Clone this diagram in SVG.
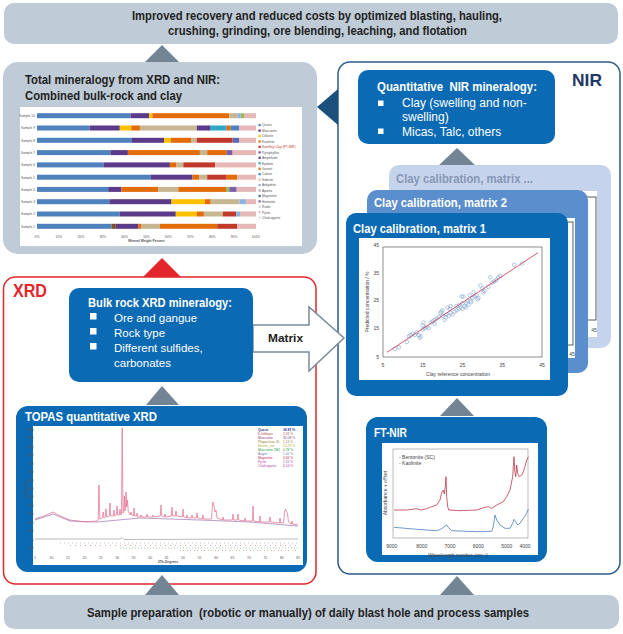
<svg xmlns="http://www.w3.org/2000/svg" width="623" height="634" viewBox="0 0 623 634">
<style>
.t{font-family:"Liberation Sans",Arial,sans-serif}
.b{font-weight:bold}
.w{fill:#fff}
.tri{fill:#738595}
.blue{fill:#0b6ab4}
.band{fill:#bfcbd7}
.pt{fill:none;stroke:#7fa6cf;stroke-width:0.6}
.sm{font-family:"Liberation Sans",Arial,sans-serif;font-size:3.3px;fill:#555}
.ax{font-family:"Liberation Sans",Arial,sans-serif;font-size:5px;fill:#444}
.pre{white-space:pre}
</style>
<rect width="623" height="634" fill="#fff"/>

<!-- Top banner -->
<g id="goal">
<rect x="4" y="3" width="614" height="41" rx="10" class="band"/>
<text class="t b" x="132" y="19.5" font-size="12.5" fill="#222" textLength="370" lengthAdjust="spacingAndGlyphs">Improved recovery and reduced costs by optimized blasting, hauling,</text>
<text class="t b" x="168" y="35" font-size="12.5" fill="#222" textLength="299" lengthAdjust="spacingAndGlyphs">crushing, grinding, ore blending, leaching, and flotation</text>
</g>

<!-- Total mineralogy box -->
<g id="total">
<rect x="3" y="62" width="314" height="192" rx="15" class="band"/>
<text class="t b" x="25" y="84" font-size="13.5" fill="#222" textLength="195" lengthAdjust="spacingAndGlyphs">Total mineralogy from XRD and NIR:</text>
<text class="t b" x="25" y="99.5" font-size="13.5" fill="#222" textLength="157" lengthAdjust="spacingAndGlyphs">Combined bulk-rock and clay</text>
<rect x="20" y="107" width="282" height="139" fill="#fff"/>
<g id="bars">
<g transform="translate(0,113.2)"><rect x="37" width="93.5" height="5" fill="#4f81bd"/><rect x="130.5" width="18.6" height="5" fill="#5b3a8a"/><rect x="149.1" width="3.3" height="5" fill="#ffc000"/><rect x="152.4" width="76.9" height="5" fill="#e36c09"/><rect x="229.3" width="8.1" height="5" fill="#c8b592"/><rect x="237.4" width="3.3" height="5" fill="#8db3e2"/><rect x="240.7" width="3.3" height="5" fill="#9bbb59"/><rect x="244" width="12" height="5" fill="#e6b9b8"/></g>
<g transform="translate(0,125.5)"><rect x="37" width="52.6" height="5" fill="#4f81bd"/><rect x="89.6" width="30.2" height="5" fill="#5b3a8a"/><rect x="119.8" width="11.4" height="5" fill="#ffc000"/><rect x="131.2" width="8.7" height="5" fill="#e36c09"/><rect x="139.9" width="57" height="5" fill="#c8b592"/><rect x="196.9" width="13.1" height="5" fill="#5b3a8a"/><rect x="210" width="16.7" height="5" fill="#31a6c8"/><rect x="226.7" width="3.9" height="5" fill="#e36c09"/><rect x="230.6" width="8.8" height="5" fill="#4f81bd"/><rect x="239.4" width="16.6" height="5" fill="#e6b9b8"/></g>
<g transform="translate(0,137.8)"><rect x="37" width="95" height="5" fill="#4f81bd"/><rect x="132" width="32" height="5" fill="#5b3a8a"/><rect x="164" width="6.6" height="5" fill="#ffc000"/><rect x="170.6" width="20.4" height="5" fill="#e36c09"/><rect x="191" width="5.7" height="5" fill="#c8b592"/><rect x="196.7" width="35.9" height="5" fill="#c0392b"/><rect x="232.6" width="6.8" height="5" fill="#5b6ab0"/><rect x="239.4" width="16.6" height="5" fill="#e6b9b8"/></g>
<g transform="translate(0,150.1)"><rect x="37" width="73.4" height="5" fill="#4f81bd"/><rect x="110.4" width="17.5" height="5" fill="#5b3a8a"/><rect x="127.9" width="72" height="5" fill="#e36c09"/><rect x="199.9" width="7.3" height="5" fill="#c8b592"/><rect x="207.2" width="19.5" height="5" fill="#e36c09"/><rect x="226.7" width="5.9" height="5" fill="#7a5fa8"/><rect x="232.6" width="23.4" height="5" fill="#e6b9b8"/></g>
<g transform="translate(0,162.4)"><rect x="37" width="66.8" height="5" fill="#4f81bd"/><rect x="103.8" width="66.1" height="5" fill="#5b3a8a"/><rect x="169.9" width="6.6" height="5" fill="#e36c09"/><rect x="176.5" width="6.8" height="5" fill="#c8b592"/><rect x="183.3" width="31.7" height="5" fill="#c0392b"/><rect x="215" width="41" height="5" fill="#e6b9b8"/></g>
<g transform="translate(0,174.7)"><rect x="37" width="113.9" height="5" fill="#4f81bd"/><rect x="150.9" width="41.6" height="5" fill="#5b3a8a"/><rect x="192.5" width="6.6" height="5" fill="#e36c09"/><rect x="199.1" width="8.1" height="5" fill="#c8b592"/><rect x="207.2" width="19.5" height="5" fill="#c0392b"/><rect x="226.7" width="10.7" height="5" fill="#e36c09"/><rect x="237.4" width="18.6" height="5" fill="#e6b9b8"/></g>
<g transform="translate(0,186.9)"><rect x="37" width="71.2" height="5" fill="#4f81bd"/><rect x="108.2" width="13.3" height="5" fill="#5b3a8a"/><rect x="121.5" width="36.6" height="5" fill="#e36c09"/><rect x="158.1" width="20.2" height="5" fill="#c8b592"/><rect x="178.3" width="47.7" height="5" fill="#e36c09"/><rect x="226" width="3.3" height="5" fill="#9bbb59"/><rect x="229.3" width="7.4" height="5" fill="#7a5fa8"/><rect x="236.7" width="19.3" height="5" fill="#e6b9b8"/></g>
<g transform="translate(0,199.2)"><rect x="37" width="72.3" height="5" fill="#4f81bd"/><rect x="109.3" width="62.2" height="5" fill="#5b3a8a"/><rect x="171.5" width="33.5" height="5" fill="#ffc000"/><rect x="205" width="5.7" height="5" fill="#e36c09"/><rect x="210.7" width="28.7" height="5" fill="#c8b592"/><rect x="239.4" width="6.5" height="5" fill="#8db3e2"/><rect x="245.9" width="10.1" height="5" fill="#e6b9b8"/></g>
<g transform="translate(0,211.5)"><rect x="37" width="82.8" height="5" fill="#4f81bd"/><rect x="119.8" width="56" height="5" fill="#5b3a8a"/><rect x="175.8" width="20.9" height="5" fill="#ffc000"/><rect x="196.7" width="7.2" height="5" fill="#e36c09"/><rect x="203.9" width="18.8" height="5" fill="#c8b592"/><rect x="222.7" width="13.4" height="5" fill="#c0392b"/><rect x="236.1" width="3.9" height="5" fill="#8db3e2"/><rect x="240" width="16" height="5" fill="#e6b9b8"/></g>
<g transform="translate(0,223.8)"><rect x="37" width="74.5" height="5" fill="#4f81bd"/><rect x="111.5" width="4.3" height="5" fill="#7f4f1f"/><rect x="115.8" width="22.4" height="5" fill="#5b3a8a"/><rect x="138.2" width="3.3" height="5" fill="#e36c09"/><rect x="141.5" width="18.4" height="5" fill="#c8b592"/><rect x="159.9" width="57.3" height="5" fill="#e36c09"/><rect x="217.2" width="20.2" height="5" fill="#c0392b"/><rect x="237.4" width="18.6" height="5" fill="#e6b9b8"/></g>
</g>
<g class="sm" text-anchor="end">
<text x="35" y="117">Sample 10</text><text x="35" y="129.3">Sample 9</text><text x="35" y="141.6">Sample 8</text><text x="35" y="153.9">Sample 7</text><text x="35" y="166.2">Sample 6</text><text x="35" y="178.5">Sample 5</text><text x="35" y="190.7">Sample 4</text><text x="35" y="203">Sample 3</text><text x="35" y="215.3">Sample 2</text><text x="35" y="227.6">Sample 1</text>
</g>
<g class="sm" text-anchor="middle">
<text x="37" y="238">0%</text><text x="58.9" y="238">10%</text><text x="80.8" y="238">20%</text><text x="102.7" y="238">30%</text><text x="124.6" y="238">40%</text><text x="146.5" y="238">50%</text><text x="168.4" y="238">60%</text><text x="190.3" y="238">70%</text><text x="212.2" y="238">80%</text><text x="234.1" y="238">90%</text><text x="256" y="238">100%</text>
<text x="146.5" y="242" font-weight="bold">Mineral Weight Percent</text>
</g>
<g id="legend1" class="sm">
<rect x="258.5" y="124" width="2.2" height="2.2" fill="#4f81bd"/><text x="262" y="126.3">Quartz</text>
<rect x="258.5" y="129.5" width="2.2" height="2.2" fill="#4b2c6f"/><text x="262" y="131.8">Muscovite</text>
<rect x="258.5" y="134.9" width="2.2" height="2.2" fill="#ffc000"/><text x="262" y="137.2">Chlorite</text>
<rect x="258.5" y="140.4" width="2.2" height="2.2" fill="#e36c09"/><text x="262" y="142.7">Kaolinite</text>
<rect x="258.5" y="145.8" width="2.2" height="2.2" fill="#c0392b"/><text x="262" y="148.1" fill="#c0392b">Swelling Clay (FT-NIR)</text>
<rect x="258.5" y="151.3" width="2.2" height="2.2" fill="#7a4fa0"/><text x="262" y="153.6">Pyrophyllite</text>
<rect x="258.5" y="156.7" width="2.2" height="2.2" fill="#5a4a8a"/><text x="262" y="159">Amphibole</text>
<rect x="258.5" y="162.2" width="2.2" height="2.2" fill="#31a6c8"/><text x="262" y="164.5">Epidote</text>
<rect x="258.5" y="167.6" width="2.2" height="2.2" fill="#e36c09"/><text x="262" y="169.9">Garnet</text>
<rect x="258.5" y="173.1" width="2.2" height="2.2" fill="#4f81bd"/><text x="262" y="175.4">Calcite</text>
<rect x="258.5" y="178.5" width="2.2" height="2.2" fill="#e6b9b8"/><text x="262" y="180.8">Siderite</text>
<rect x="258.5" y="184" width="2.2" height="2.2" fill="#8db3e2"/><text x="262" y="186.3">Anhydrite</text>
<rect x="258.5" y="189.4" width="2.2" height="2.2" fill="#b7a7d0"/><text x="262" y="191.7">Apatite</text>
<rect x="258.5" y="194.9" width="2.2" height="2.2" fill="#3a6ea5"/><text x="262" y="197.2">Magnetite</text>
<rect x="258.5" y="200.3" width="2.2" height="2.2" fill="#7f5fa0"/><text x="262" y="202.6">Hematite</text>
<rect x="258.5" y="205.8" width="2.2" height="2.2" fill="#c8d8e8"/><text x="262" y="208.1">Rutile</text>
<rect x="258.5" y="211.2" width="2.2" height="2.2" fill="#d9c8e0"/><text x="262" y="213.5">Pyrite</text>
<rect x="258.5" y="216.7" width="2.2" height="2.2" fill="#e0e0e0"/><text x="262" y="219">Chalcopyrite</text>
</g>
</g>

<!-- XRD frame -->
<g id="xrd">
<rect x="3.5" y="277" width="312.5" height="307" rx="12" fill="none" stroke="#e3262b" stroke-width="1.5"/>
<text class="t b" x="13" y="297" font-size="18" fill="#e3262b" textLength="34" lengthAdjust="spacingAndGlyphs">XRD</text>
</g>

<!-- NIR frame -->
<g id="nir">
<rect x="338" y="62" width="282" height="512" rx="12" fill="none" stroke="#2a5b87" stroke-width="1.5"/>
<text class="t b" x="572" y="86" font-size="17" fill="#1f3864" textLength="30" lengthAdjust="spacingAndGlyphs">NIR</text>
</g>

<!-- Connectors -->
<g id="connectors">
<polygon class="tri" points="162,45 145,62 179,62"/>
<polygon points="162,258 143,277 181,277" fill="#e3262b"/>
<polygon class="tri" points="162,386 146,405 179,405"/>
<polygon class="tri" points="162,575 145,595 179,595"/>
<polygon class="tri" points="457,148 438,166 476,166"/>
<polygon class="tri" points="457,398 440,416 474,416"/>
<polygon class="tri" points="457,576 440,595 474,595"/>
<polygon points="317,107 338,89 338,125" fill="#1d4f7c"/>
<polygon points="253,325 309,325 309,307 344,338 309,371 309,352 253,352" fill="#fff" stroke="#7b8a98" stroke-width="1.5" stroke-linejoin="miter"/>
<text class="t b" x="268" y="341.7" font-size="11.5" fill="#222" textLength="35" lengthAdjust="spacingAndGlyphs">Matrix</text>
</g>

<!-- Bulk rock box -->
<g id="bulk">
<rect x="69" y="288" width="184" height="94" rx="10" class="blue"/>
<text class="t b w" x="88" y="307" font-size="12.5" textLength="144" lengthAdjust="spacingAndGlyphs">Bulk rock XRD mineralogy:</text>
<rect x="90" y="313" width="6.5" height="6.5" class="w"/>
<rect x="90" y="328" width="6.5" height="6.5" class="w"/>
<rect x="90" y="343" width="6.5" height="6.5" class="w"/>
<text class="t w" x="114" y="321.7" font-size="11.5">Ore and gangue</text>
<text class="t w" x="114" y="336.7" font-size="11.5">Rock type</text>
<text class="t w" x="114" y="351.7" font-size="11.5">Different sulfides,</text>
<text class="t w" x="114" y="366.7" font-size="11.5">carbonates</text>
</g>

<!-- TOPAS box -->
<g id="topas">
<rect x="16" y="406" width="291" height="166" rx="12" class="blue"/>
<text class="t b w" x="25" y="421" font-size="13" textLength="132" lengthAdjust="spacingAndGlyphs">TOPAS quantitative XRD</text>
<rect x="33" y="426" width="270" height="139" fill="#fff"/>
<g class="sm" font-size="3" text-anchor="end">
<text x="33.5" y="431">1300</text><text x="33.5" y="439.4">1200</text><text x="33.5" y="447.9">1100</text><text x="33.5" y="456.3">1000</text><text x="33.5" y="464.7">900</text><text x="33.5" y="473.2">800</text><text x="33.5" y="481.6">700</text><text x="33.5" y="490">600</text><text x="33.5" y="498.4">500</text><text x="33.5" y="506.9">400</text><text x="33.5" y="515.3">300</text><text x="33.5" y="523.7">200</text><text x="33.5" y="532.2">100</text><text x="33.5" y="540.6">0</text><text x="33.5" y="549">-100</text>
</g>
<text class="sm" font-size="3" transform="translate(27,490) rotate(-90)" text-anchor="middle">Sqrt(Counts)</text>
<path d="M35,520 L53,514 L70,521 L97,522 L140,518 L200,520 L250,522 L298,526" fill="none" stroke="#8a5aa8" stroke-width="0.6"/>
<path d="M35,519 L44,516 L53,512 L60,516 L70,520 L85,522 L97,521 L98.2,520 L99,485 L99.8,519 L102.5,518 L103.2,512 L104,518 L105.3,517 L106,509 L106.7,517 L109.3,516 L110,503 L110.7,516 L113.3,516 L114,510 L114.7,516 L116.3,515 L117,506 L117.7,515 L119.3,515 L120,509 L120.7,515 L121.5,514 L122.2,428 L123,513 L123.6,512 L124.3,496 L125,511 L125.4,508 L126,492 L126.7,507 L127.5,500 L128.3,512 L130.3,515 L131,512 L131.7,515 L133.3,516 L134,508 L134.7,516 L136.3,516 L137,513 L137.7,517 L140.3,517 L141,515 L141.7,517 L146.3,517 L147,514 L147.7,517 L152.3,517 L153,515 L153.7,517 L160.3,516 L161,505 L161.7,516 L164.3,517 L165,514 L165.7,517 L171.3,516 L172,507 L172.7,516 L175.3,516 L176,511 L176.7,516 L182.3,517 L183,509 L183.7,517 L186.3,518 L187,515 L187.7,518 L191.3,518 L192,515 L192.7,518 L196.3,518 L197,513 L197.7,518 L202.3,519 L203,515 L203.7,519 L211.5,519 L212.5,504 L213,502 L214,506 L215,512 L216,510 L217,518 L222.3,520 L223,517 L223.7,520 L232.3,520 L233,514 L233.7,520 L237.3,520 L238,514 L238.7,520 L244.3,521 L245,518 L245.7,521 L252.3,521 L253,506 L253.7,521 L259.3,522 L260,516 L260.7,522 L269.3,522 L270,517 L270.7,522 L279.3,523 L280,518 L280.7,523 L283.5,523 L284.5,512 L285.5,509 L286.5,511 L287.5,514 L288.5,522 L291.3,524 L292,521 L292.7,524 L298,525" fill="none" stroke="#e46a8a" stroke-width="0.7"/>
<path d="M35,539 L120,539 L122,537.5 L124,539.5 L298,539" fill="none" stroke="#777" stroke-width="0.5"/>
<line x1="60" y1="543" x2="298" y2="543" stroke="#8a8a8a" stroke-width="1.2" stroke-dasharray="0.5 3.5"/>
<line x1="70" y1="545.5" x2="298" y2="545.5" stroke="#c05050" stroke-width="1.2" stroke-dasharray="0.5 4.5"/>
<line x1="120" y1="548" x2="298" y2="548" stroke="#50a050" stroke-width="1.2" stroke-dasharray="0.5 2.5"/>
<line x1="180" y1="550.5" x2="298" y2="550.5" stroke="#a08040" stroke-width="1.2" stroke-dasharray="0.5 3"/>
<g class="sm" font-size="3" text-anchor="middle">
<text x="35" y="559">5</text><text x="51.5" y="559">10</text><text x="67.9" y="559">15</text><text x="84.4" y="559">20</text><text x="100.8" y="559">25</text><text x="117.3" y="559">30</text><text x="133.7" y="559">35</text><text x="150.2" y="559">40</text><text x="166.6" y="559">45</text><text x="183.1" y="559">50</text><text x="199.5" y="559">55</text><text x="216" y="559">60</text><text x="232.4" y="559">65</text><text x="248.9" y="559">70</text><text x="265.3" y="559">75</text><text x="281.8" y="559">80</text><text x="298.2" y="559">85</text>
<text x="168" y="563" font-weight="bold">2Th-Degrees</text>
</g>
<g class="sm" font-size="3.3">
<text x="258" y="431" fill="#3b3b9c" font-weight="bold">Quartz</text><text x="283" y="431" fill="#3b3b9c" font-weight="bold">38.85 %</text>
<text x="258" y="435" fill="#a05050">K-feldspar</text><text x="283" y="435" fill="#a05050">2.03 %</text>
<text x="258" y="439" fill="#8a3a7a">Muscovite</text><text x="283" y="439" fill="#8a3a7a">31.08 %</text>
<text x="258" y="443" fill="#a08030">Plagioclase 20</text><text x="283" y="443" fill="#a08030">1.13 %</text>
<text x="258" y="447" fill="#b8b040">Montm_ore</text><text x="283" y="447" fill="#b8b040">15.29 %</text>
<text x="258" y="451" fill="#2f9a3f">Muscovite 2M1</text><text x="283" y="451" fill="#2f9a3f">0.78 %</text>
<text x="258" y="455" fill="#6b7aa8">Augite</text><text x="283" y="455" fill="#6b7aa8">1.02 %</text>
<text x="258" y="459" fill="#c02a5a">Magnetite</text><text x="283" y="459" fill="#c02a5a">0.84 %</text>
<text x="258" y="463" fill="#c03aa0">Pyrite</text><text x="283" y="463" fill="#c03aa0">2.16 %</text>
<text x="258" y="467" fill="#b04aa0">Chalcopyrite</text><text x="283" y="467" fill="#b04aa0">6.54 %</text>
</g>
</g>

<!-- Quantitative NIR box -->
<g id="quant">
<rect x="358" y="70" width="197" height="74" rx="10" class="blue"/>
<text class="t b w pre" x="377" y="91" font-size="12" textLength="160" lengthAdjust="spacingAndGlyphs">Quantitative  NIR mineralogy:</text>
<rect x="378" y="100.5" width="5.5" height="5.5" class="w"/>
<rect x="378" y="128.5" width="5.5" height="5.5" class="w"/>
<text class="t w" x="402" y="106.5" font-size="12">Clay (swelling and non-</text>
<text class="t w" x="402" y="121" font-size="12">swelling)</text>
<text class="t w" x="402" y="135.5" font-size="12">Micas, Talc, others</text>
</g>

<!-- Calibration cards -->
<g id="card3">
<rect x="389" y="165" width="222" height="183" rx="10" fill="#c5d4ec"/>
<text class="t b" x="396" y="183" font-size="13" fill="#8797b5" textLength="137" lengthAdjust="spacingAndGlyphs">Clay calibration, matrix ...</text>
<rect x="396" y="191" width="201" height="146" fill="#fff"/>
<rect x="410" y="197" width="186" height="123" fill="none" stroke="#333" stroke-width="0.8"/>
<text class="ax" x="594" y="332" text-anchor="middle">45</text>
</g>
<g id="card2">
<rect x="367" y="190" width="221" height="183" rx="10" fill="#5b8ecd"/>
<text class="t b w" x="374" y="207" font-size="13" textLength="133" lengthAdjust="spacingAndGlyphs">Clay calibration, matrix 2</text>
<rect x="375" y="218" width="200" height="140" fill="#fff"/>
<rect x="390" y="222" width="183" height="123" fill="none" stroke="#333" stroke-width="0.8"/>
<text class="ax" x="572" y="356" text-anchor="middle">45</text>
</g>
<g id="card1">
<rect x="346" y="213" width="222" height="183" rx="10" class="blue"/>
<text class="t b w" x="353" y="232.5" font-size="13" textLength="133" lengthAdjust="spacingAndGlyphs">Clay calibration, matrix 1</text>
<rect x="359" y="238" width="191" height="142" fill="#fff"/>
<rect x="383" y="247" width="159" height="110" fill="none" stroke="#444" stroke-width="0.6"/>
<g class="ax" text-anchor="end">
<text x="379" y="247">45</text><text x="379" y="274.5">35</text><text x="379" y="302">25</text><text x="379" y="329.5">15</text><text x="379" y="358.5">5</text>
</g>
<g class="ax" text-anchor="middle">
<text x="383" y="367">5</text><text x="422.8" y="367">15</text><text x="462.5" y="367">25</text><text x="502.3" y="367">35</text><text x="542" y="367">45</text>
<text x="458" y="375.5">Clay reference concentration</text>
</g>
<text class="ax" transform="translate(368.5,302) rotate(-90)" text-anchor="middle">Predicted concentration / %</text>
<g id="pts">
<circle class="pt" cx="394.9" cy="348.8" r="1.8"/><circle class="pt" cx="398.9" cy="347.4" r="1.8"/><circle class="pt" cx="406.9" cy="341.9" r="1.8"/><circle class="pt" cx="408.8" cy="336.4" r="1.8"/><circle class="pt" cx="410.8" cy="335" r="1.8"/><circle class="pt" cx="412.8" cy="333.6" r="1.8"/><circle class="pt" cx="414.8" cy="335" r="1.8"/><circle class="pt" cx="416.8" cy="332.3" r="1.8"/><circle class="pt" cx="418.8" cy="335" r="1.8"/><circle class="pt" cx="419.6" cy="337.8" r="1.8"/><circle class="pt" cx="420.8" cy="336.4" r="1.8"/><circle class="pt" cx="422.8" cy="329.5" r="1.8"/><circle class="pt" cx="422.8" cy="325.4" r="1.8"/><circle class="pt" cx="423.5" cy="322.6" r="1.8"/><circle class="pt" cx="424.7" cy="328.1" r="1.8"/><circle class="pt" cx="426.7" cy="326.8" r="1.8"/><circle class="pt" cx="428.7" cy="328.1" r="1.8"/><circle class="pt" cx="430.7" cy="322.6" r="1.8"/><circle class="pt" cx="432.7" cy="321.3" r="1.8"/><circle class="pt" cx="434.7" cy="319.9" r="1.8"/><circle class="pt" cx="434.7" cy="324" r="1.8"/><circle class="pt" cx="436.7" cy="318.5" r="1.8"/><circle class="pt" cx="438.7" cy="317.1" r="1.8"/><circle class="pt" cx="440.6" cy="313" r="1.8"/><circle class="pt" cx="441.4" cy="311.6" r="1.8"/><circle class="pt" cx="442.6" cy="315.8" r="1.8"/><circle class="pt" cx="442.6" cy="310.3" r="1.8"/><circle class="pt" cx="444.6" cy="319.9" r="1.8"/><circle class="pt" cx="445.8" cy="317.1" r="1.8"/><circle class="pt" cx="446.6" cy="314.4" r="1.8"/><circle class="pt" cx="447.4" cy="307.5" r="1.8"/><circle class="pt" cx="448.6" cy="315.8" r="1.8"/><circle class="pt" cx="449.8" cy="308.9" r="1.8"/><circle class="pt" cx="450.6" cy="313" r="1.8"/><circle class="pt" cx="450.6" cy="306.1" r="1.8"/><circle class="pt" cx="452.6" cy="314.4" r="1.8"/><circle class="pt" cx="454.6" cy="311.6" r="1.8"/><circle class="pt" cx="456.5" cy="310.3" r="1.8"/><circle class="pt" cx="456.5" cy="306.1" r="1.8"/><circle class="pt" cx="458.5" cy="308.9" r="1.8"/><circle class="pt" cx="459.3" cy="304.8" r="1.8"/><circle class="pt" cx="460.5" cy="307.5" r="1.8"/><circle class="pt" cx="461.7" cy="296.5" r="1.8"/><circle class="pt" cx="462.5" cy="308.9" r="1.8"/><circle class="pt" cx="462.5" cy="303.4" r="1.8"/><circle class="pt" cx="463.3" cy="296.5" r="1.8"/><circle class="pt" cx="464.5" cy="306.1" r="1.8"/><circle class="pt" cx="465.7" cy="307.5" r="1.8"/><circle class="pt" cx="466.5" cy="303.4" r="1.8"/><circle class="pt" cx="467.3" cy="300.6" r="1.8"/><circle class="pt" cx="468.5" cy="304.8" r="1.8"/><circle class="pt" cx="469.7" cy="295.1" r="1.8"/><circle class="pt" cx="470.5" cy="300.6" r="1.8"/><circle class="pt" cx="471.2" cy="302" r="1.8"/><circle class="pt" cx="472.4" cy="297.9" r="1.8"/><circle class="pt" cx="473.6" cy="292.4" r="1.8"/><circle class="pt" cx="474.4" cy="296.5" r="1.8"/><circle class="pt" cx="476.4" cy="295.1" r="1.8"/><circle class="pt" cx="477.6" cy="299.3" r="1.8"/><circle class="pt" cx="478.4" cy="297.9" r="1.8"/><circle class="pt" cx="480.4" cy="285.5" r="1.8"/><circle class="pt" cx="482.4" cy="288.3" r="1.8"/><circle class="pt" cx="483.2" cy="292.4" r="1.8"/><circle class="pt" cx="484.4" cy="291" r="1.8"/><circle class="pt" cx="488.3" cy="286.9" r="1.8"/><circle class="pt" cx="490.3" cy="277.3" r="1.8"/><circle class="pt" cx="492.3" cy="282.8" r="1.8"/><circle class="pt" cx="494.3" cy="281.4" r="1.8"/><circle class="pt" cx="496.3" cy="280" r="1.8"/><circle class="pt" cx="498.3" cy="277.3" r="1.8"/><circle class="pt" cx="500.3" cy="275.9" r="1.8"/><circle class="pt" cx="514.2" cy="264.9" r="1.8"/><circle class="pt" cx="522.1" cy="263.5" r="1.8"/>
</g>
<line x1="387" y1="352.3" x2="538" y2="252.7" stroke="#d0304a" stroke-width="0.8"/>
</g>

<!-- FT-NIR box -->
<g id="ftnir">
<rect x="366" y="417" width="181" height="145" rx="12" class="blue"/>
<text class="t b w" x="374" y="437" font-size="13" textLength="33" lengthAdjust="spacingAndGlyphs">FT-NIR</text>
<rect x="382" y="443" width="156" height="112" fill="#fff"/>
<rect x="393" y="449" width="135" height="89" fill="none" stroke="#777" stroke-width="0.5"/>
<text class="ax" x="399" y="458.5" font-size="4.5">- Bentonite (SC)</text>
<text class="ax" x="399" y="464.5" font-size="4.5">- Kaolinite</text>
<path d="M394,510 L406.7,510 L416.7,508.7 L421.7,510 L426.7,508.7 L431.7,506.7 L436.7,505 L440,500 L441.7,492.7 L443.3,490 L444.3,494 L445.3,486.7 L446,476.7 L446.7,496.7 L447.7,506.7 L448.7,510 L460,510.7 L476.7,510 L485,507.3 L488.3,506.7 L491.7,508.3 L496.7,505 L503.3,501.7 L506.7,496.7 L510,490 L512.7,476.7 L513.3,466.7 L514,456.7 L514.7,470 L515.7,476.7 L516.7,465 L517.7,473.3 L519.3,476.7 L521.7,475 L523.3,471.7 L525,466.7 L526.7,460 L528.3,456.7" fill="none" stroke="#c0394a" stroke-width="0.8"/>
<path d="M394,527.3 L416.7,529.3 L436.7,530.7 L441.7,528.7 L445,526 L446.7,525 L448.3,527.3 L451.7,530.7 L476.7,531.7 L491.7,531.3 L493.3,526.7 L495,515 L496.7,520 L500,525 L505,528.3 L510,528.3 L512.7,523.3 L514,519.3 L515.7,521.7 L517.7,525 L520,523.3 L523.3,518.3 L526.7,513.3 L528.3,509.3" fill="none" stroke="#4a7fc0" stroke-width="0.8"/>
<g class="ax" font-size="4.5" text-anchor="middle">
<text x="391.7" y="548">9000</text><text x="421.7" y="548">8000</text><text x="450" y="548">7000</text><text x="478.3" y="548">6000</text><text x="506.7" y="548">5000</text><text x="525" y="548">4000</text>
<text x="458" y="557">Wavelength number (cm⁻¹)</text>
</g>
<text class="ax" font-size="4.5" transform="translate(387,493) rotate(-90)" text-anchor="middle">Absorbance + offset</text>
</g>

<!-- Bottom banner -->
<g id="sample">
<rect x="4" y="595" width="615" height="34" rx="10" class="band"/>
<text class="t b pre" x="87" y="616.5" font-size="12.5" fill="#222" textLength="442" lengthAdjust="spacingAndGlyphs">Sample preparation  (robotic or manually) of daily blast hole and process samples</text>
</g>
</svg>
